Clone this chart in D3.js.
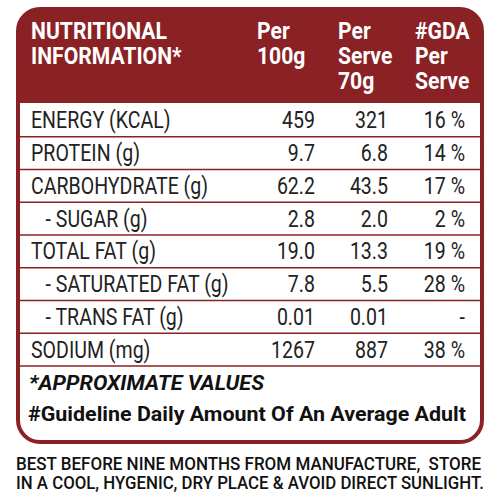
<!DOCTYPE html>
<html><head><meta charset="utf-8">
<script src="https://cdn.jsdelivr.net/npm/d3@7"></script>
<style>body{margin:0;background:#fff}</style>
</head><body>
<script>
// table data
const headers = [["NUTRITIONAL", "INFORMATION*"], ["Per", "100g"], ["Per", "Serve", "70g"], ["#GDA", "Per", "Serve"]]
const nutrients = ["ENERGY (KCAL)", "PROTEIN (g)", "CARBOHYDRATE (g)", "   - SUGAR (g)", "TOTAL FAT (g)", "   - SATURATED FAT (g)", "   - TRANS FAT (g)", "SODIUM (mg)"]
const per100g = ["459", "9.7", "62.2", "2.8", "19.0", "7.8", "0.01", "1267"]
const perServe = ["321", "6.8", "43.5", "2.0", "13.3", "5.5", "0.01", "887"]
const gdaServe = ["16 %", "14 %", "17 %", "2 %", "19 %", "28 %", "-", "38 %"]
const notes = ["*APPROXIMATE VALUES", "#Guideline Daily Amount Of An Average Adult"]
const storage = ["BEST BEFORE NINE MONTHS FROM MANUFACTURE,  STORE", "IN A COOL, HYGENIC, DRY PLACE & AVOID DIRECT SUNLIGHT."]

const red = '#8a2125'
const svg = d3.select('body').append('svg').attr('width', 500).attr('height', 500)

// squeeze text horizontally to mimic a condensed face
function squeeze(el, f) {
    const w = el.node().getComputedTextLength()
    el.attr('textLength', w * f).attr('lengthAdjust', 'spacingAndGlyphs')
    return el
}

// outer box + header band
svg.append('rect').attr('x', 18).attr('y', 9).attr('width', 464).attr('height', 433)
    .attr('rx', 22).attr('fill', '#fff').attr('stroke', red).attr('stroke-width', 4)
const clip = svg.append('clipPath').attr('id', 'c')
clip.append('rect').attr('x', 18).attr('y', 9).attr('width', 464).attr('height', 433).attr('rx', 22)
svg.append('rect').attr('x', 18).attr('y', 9).attr('width', 464).attr('height', 94)
    .attr('fill', red).attr('clip-path', 'url(#c)')

const y = d3.scaleBand().domain(d3.range(nutrients.length)).range([104, 366])
const font = 'Roboto, sans-serif'

// header text
const hx = [31, 257, 338, 415]
headers.forEach((h, i) => {
    h.forEach((t, j) => {
        const el = svg.append('text').attr('x', hx[i]).attr('y', 39 + j * 25).text(t)
            .attr('fill', '#fff').attr('font-family', font).attr('font-weight', 'bold')
            .attr('font-size', 24)
        squeeze(el, 0.88)
    })
})

// row separators
d3.range(1, nutrients.length + 1).forEach(i => {
    const yy = i < nutrients.length ? y(i) : y.range()[1]
    svg.append('line').attr('x1', 18).attr('x2', 482).attr('y1', yy).attr('y2', yy)
        .attr('stroke', red).attr('stroke-width', 1.5)
})

function txt(x, yy, t, anchor) {
    const el = svg.append('text').attr('x', x).attr('y', yy).text(t).attr('text-anchor', anchor)
        .style('white-space', 'pre').attr('font-family', font).attr('font-size', 23).attr('fill', '#222')
    return squeeze(el, 0.85)
}
nutrients.forEach((n, i) => {
    const yy = y(i) + y.bandwidth() / 2 + 8
    txt(31, yy, n, 'start')
    txt(315, yy, per100g[i], 'end')
    txt(388, yy, perServe[i], 'end')
    txt(465, yy, gdaServe[i], 'end')
})

const n0 = svg.append('text').attr('x', 29).attr('y', 390).text(notes[0]).attr('font-family', font)
    .attr('font-weight', 'bold').attr('font-style', 'italic').attr('font-size', 21).attr('fill', '#111')
n0.attr('textLength', 235).attr('lengthAdjust', 'spacingAndGlyphs')
const n1 = svg.append('text').attr('x', 28).attr('y', 421).text(notes[1]).attr('font-family', font)
    .attr('font-weight', 'bold').attr('font-size', 21).attr('fill', '#111')
n1.attr('textLength', 438).attr('lengthAdjust', 'spacingAndGlyphs')

storage.forEach((s, i) => {
    svg.append('text').attr('x', 16).attr('y', 470 + i * 19).text(s).style('white-space', 'pre')
        .attr('font-family', font).attr('font-weight', 500).attr('font-size', 18).attr('fill', '#111')
        .attr('textLength', i ? 468 : 465).attr('lengthAdjust', 'spacingAndGlyphs')
})
</script>
</body></html>
